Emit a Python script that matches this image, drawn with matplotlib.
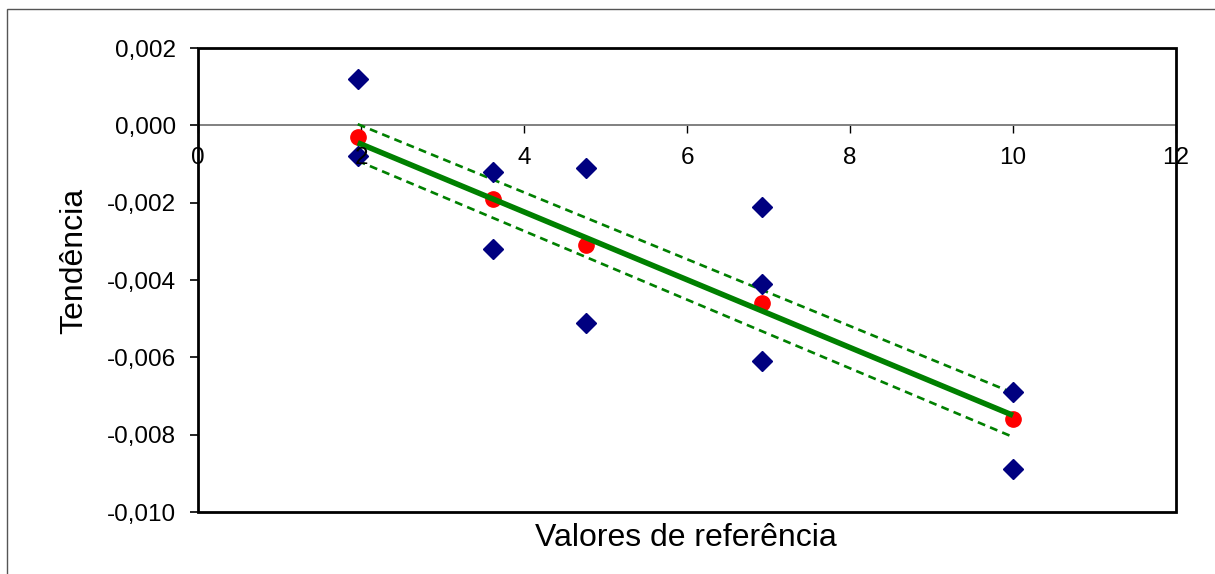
import matplotlib
matplotlib.use("Agg")
import matplotlib.pyplot as plt
from matplotlib.patches import Rectangle
from matplotlib.ticker import FuncFormatter

plt.rcParams['font.family'] = ['Liberation Sans', 'DejaVu Sans']

# Individual results (blue diamonds)
x_points = [1.96, 1.96, 3.62, 3.62, 4.76, 4.76, 6.92, 6.92, 6.92, 10.0, 10.0]
y_points = [0.0012, -0.0008, -0.0012, -0.0032, -0.0011, -0.0051,
            -0.0021, -0.0041, -0.0061, -0.0069, -0.0089]

# Mean tendency per reference value (red circles)
x_means = [1.96, 3.62, 4.76, 6.92, 10.0]
y_means = [-0.0003, -0.0019, -0.0031, -0.0046, -0.0076]

# Regression line and confidence limits (end points)
x_line = [1.96, 10.0]
y_fit = [-0.00045, -0.00750]
y_upper = [0.00003, -0.00692]
y_lower = [-0.00092, -0.00806]

x_ticks = [0, 2, 4, 6, 8, 10, 12]
x_ticklabels = ['0', '2', '4', '6', '8', '10', '12']
y_ticks = [-0.010, -0.008, -0.006, -0.004, -0.002, 0.000, 0.002]

fig = plt.figure(figsize=(12.15, 5.74), dpi=100)
ax = fig.add_axes([198/1215, 1-512/574, (1176-198)/1215, (512-48)/574])

ax.plot(x_means, y_means, 'o', color='#FF0000', markersize=11, zorder=3)
ax.plot(x_line, y_fit, '-', color='#008000', lw=4, zorder=4, solid_capstyle='butt')
ax.plot(x_line, y_upper, '--', color='#008000', lw=1.9, dashes=(3, 2), zorder=4)
ax.plot(x_line, y_lower, '--', color='#008000', lw=1.9, dashes=(3, 2), zorder=4)
ax.plot(x_points, y_points, 'D', color='#000080', markersize=10.5, zorder=5)

ax.set_xlim(0, 12)
ax.set_ylim(-0.010, 0.002)
ax.set_xticks(x_ticks)
ax.set_yticks(y_ticks)
ax.yaxis.set_major_formatter(FuncFormatter(lambda v, p: f"{v:.3f}".replace('.', ',').replace('-0,000', '0,000')))

for s in ['top', 'right', 'left']:
    ax.spines[s].set_visible(False)
ax.spines['bottom'].set_position(('data', 0))
ax.spines['bottom'].set_color('#808080')
ax.spines['bottom'].set_linewidth(1.4)
ax.spines['bottom'].set_zorder(2)
ax.add_patch(Rectangle((0, 0), 1, 1, transform=ax.transAxes, fill=False,
                       edgecolor='black', lw=2.0, clip_on=False, zorder=8))

ax.tick_params(axis='x', direction='out', length=6, width=1, color='black',
               labelbottom=False)
ax.tick_params(axis='y', direction='out', length=6, width=1.2, color='black',
               labelsize=17.5, pad=10)

for xv, lab in zip(x_ticks, x_ticklabels):
    ax.annotate(lab, xy=(xv, 0), xytext=(0, -15.8), textcoords='offset points',
                ha='center', va='top', fontsize=17.5, zorder=7, annotation_clip=False)

fig.text(686/1215, 1 - 546/574, 'Valores de referência', fontsize=23,
         ha='center', va='baseline')
fig.text(74/1215, 1 - 261/574, 'Tendência', fontsize=23, rotation=90,
         ha='center', va='center')

# outer chart border
fig.add_artist(Rectangle((7/1215, -0.1), 1.2, 1 - 9/574 + 0.1, transform=fig.transFigure,
                         fill=False, edgecolor='#555555', lw=1.0))

fig.savefig('out.png', dpi=100)
